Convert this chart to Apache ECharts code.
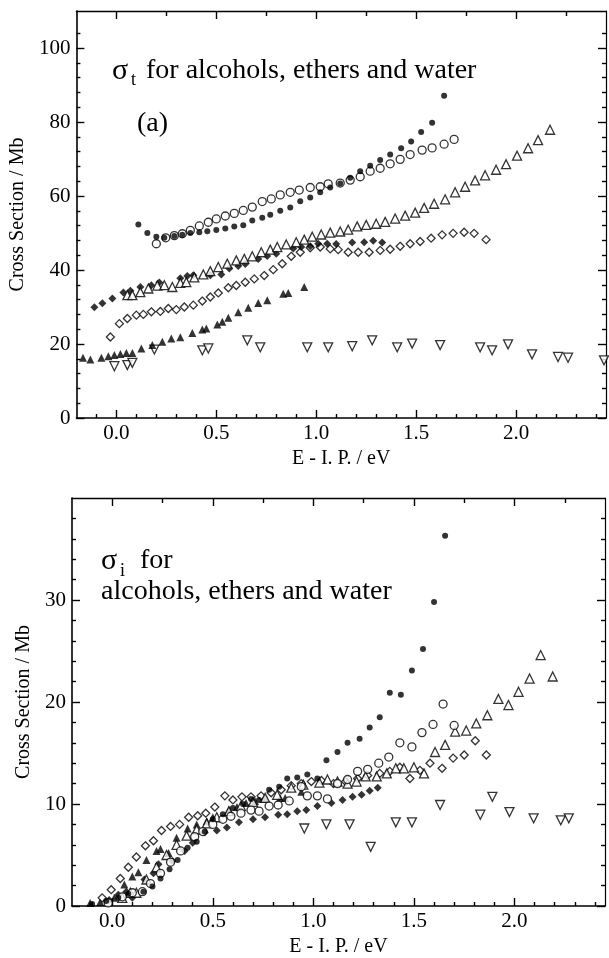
<!DOCTYPE html>
<html>
<head>
<meta charset="utf-8">
<title>Cross sections</title>
<script src="https://cdn.jsdelivr.net/npm/echarts@6/dist/echarts.min.js"></script>
<style>
    html, body { margin: 0; padding: 0; background: #fff; }
    #main { width: 609px; height: 958px; }
</style>
</head>
<body>
<div id="main"></div>
<script>
// ---- tick labels ----
var xMajor = [0, 0.5, 1.0, 1.5, 2.0];
var xTopMinor = [0.25, 0.75, 1.25, 1.75, 2.25];
var yMajorT = [0, 20, 40, 60, 80, 100];
var yMajorI = [0, 10, 20, 30];

// ---- (a) total cross section sigma_t, [E - IP (eV), Mb] ----
var tFilledCircle = [[0.11,52.3],[0.155,50.0],[0.20,49.0],[0.24,48.7],[0.29,49.2],[0.33,49.5],[0.37,50.0],[0.415,50.2],[0.455,50.5],[0.50,50.8],[0.545,51.2],[0.59,51.75],[0.635,52.1],[0.68,53.4],[0.73,54.1],[0.77,54.9],[0.82,56.0],[0.87,56.9],[0.92,58.6],[0.97,59.6],[1.02,61.0],[1.07,62.3],[1.12,63.4],[1.17,64.9],[1.22,66.7],[1.27,68.2],[1.32,69.7],[1.37,71.2],[1.425,72.9],[1.475,74.7],[1.525,77.3],[1.58,79.8],[1.64,87.1]];
var tOpenCircle = [[0.20,47.1],[0.247,48.7],[0.29,49.3],[0.33,49.8],[0.37,50.7],[0.415,51.9],[0.46,52.9],[0.50,53.8],[0.545,54.6],[0.59,55.3],[0.635,56.1],[0.68,57.0],[0.73,58.5],[0.775,59.2],[0.82,60.3],[0.87,61.0],[0.915,61.6],[0.97,62.3],[1.02,62.5],[1.06,63.3],[1.12,63.5],[1.17,64.3],[1.22,65.2],[1.27,66.7],[1.32,67.5],[1.37,68.7],[1.42,69.9],[1.47,71.2],[1.53,72.4],[1.58,73.0],[1.64,74.0],[1.69,75.3]];
var tOpenTri = [[0.055,33.2],[0.08,33.2],[0.12,34.0],[0.16,35.0],[0.205,35.8],[0.24,35.9],[0.28,35.4],[0.32,36.5],[0.35,36.7],[0.39,38.0],[0.435,38.8],[0.47,39.7],[0.51,40.8],[0.555,41.7],[0.60,42.6],[0.64,43.0],[0.68,43.7],[0.725,44.8],[0.77,45.5],[0.805,46.2],[0.85,46.9],[0.90,47.5],[0.94,48.2],[0.98,49.0],[1.025,49.6],[1.07,50.1],[1.12,50.4],[1.16,50.9],[1.205,51.8],[1.25,52.2],[1.30,52.5],[1.345,53.0],[1.395,53.9],[1.445,54.7],[1.495,55.5],[1.54,56.8],[1.59,57.9],[1.645,59.1],[1.695,61.0],[1.745,62.5],[1.795,64.2],[1.845,65.6],[1.90,67.1],[1.95,68.6],[2.005,70.9],[2.06,72.9],[2.11,75.1],[2.17,77.9]];
var tFilledDiam = [[-0.11,29.9],[-0.07,31.0],[-0.02,32.3],[0.035,33.9],[0.07,34.4],[0.12,35.4],[0.175,35.9],[0.215,36.6],[0.32,37.8],[0.355,38.4],[0.385,38.6],[0.47,38.6],[0.525,38.8],[0.565,40.4],[0.61,41.1],[0.645,41.6],[0.71,43.0],[0.755,43.8],[0.80,44.4],[0.885,45.8],[0.925,46.2],[0.97,46.4],[1.01,47.1],[1.055,47.1],[1.10,47.0],[1.18,47.4],[1.24,47.5],[1.285,47.9],[1.33,47.4]];
var tOpenDiam = [[-0.03,21.9],[0.015,25.5],[0.055,26.9],[0.10,27.8],[0.135,28.0],[0.175,28.7],[0.22,28.8],[0.26,29.6],[0.30,29.3],[0.34,30.0],[0.385,30.5],[0.43,31.6],[0.47,32.7],[0.51,33.8],[0.56,35.2],[0.60,35.8],[0.645,36.7],[0.69,37.6],[0.74,38.5],[0.785,40.1],[0.83,41.7],[0.875,43.7],[0.92,44.8],[0.97,46.0],[1.02,46.2],[1.07,45.7],[1.11,45.5],[1.16,44.8],[1.21,44.8],[1.265,44.8],[1.32,45.3],[1.37,45.6],[1.42,46.4],[1.47,47.1],[1.52,47.7],[1.575,48.6],[1.63,49.5],[1.685,49.9],[1.74,50.2],[1.79,49.9],[1.85,48.2]];
var tFilledTri = [[-0.167,16.3],[-0.13,15.8],[-0.075,16.3],[-0.04,16.7],[-0.01,17.0],[0.02,17.3],[0.05,17.6],[0.08,17.6],[0.125,18.8],[0.18,19.7],[0.23,20.6],[0.275,21.5],[0.32,21.8],[0.38,23.0],[0.43,23.9],[0.45,24.2],[0.505,25.3],[0.53,26.0],[0.56,27.1],[0.61,28.6],[0.66,29.8],[0.71,31.1],[0.755,31.8],[0.835,33.6],[0.86,33.8],[0.94,35.4]];
var tWater = [[-0.01,14.0],[0.055,14.3],[0.08,14.9],[0.19,18.5],[0.43,18.3],[0.46,18.8],[0.655,21.0],[0.72,19.1],[0.955,19.1],[1.06,19.1],[1.18,19.4],[1.28,21.0],[1.405,19.1],[1.48,20.1],[1.62,19.7],[1.82,19.1],[1.88,18.3],[1.96,19.9],[2.08,17.2],[2.21,16.5],[2.26,16.3],[2.44,15.6]];

// ---- (b) ionization cross section sigma_i ----
var iFilledCircle = [[-0.10,0.2],[-0.03,0.5],[0.03,0.8],[0.08,1.2],[0.155,1.4],[0.20,1.9],[0.24,2.7],[0.285,3.6],[0.325,4.5],[0.375,5.7],[0.42,6.3],[0.46,7.3],[0.50,8.5],[0.55,9.0],[0.60,9.6],[0.65,10.0],[0.69,10.5],[0.73,10.4],[0.78,11.4],[0.83,11.7],[0.87,12.5],[0.92,12.6],[0.97,12.9],[1.02,12.5],[1.065,14.3],[1.12,15.1],[1.17,16.0],[1.23,16.4],[1.28,17.5],[1.33,18.5],[1.38,20.9],[1.435,20.7],[1.49,23.1],[1.545,25.2],[1.60,29.8],[1.655,36.3]];
var iOpenCircle = [[-0.02,0.3],[0.05,0.9],[0.10,1.3],[0.15,1.4],[0.19,2.2],[0.24,3.2],[0.29,4.3],[0.34,5.4],[0.41,6.8],[0.45,7.3],[0.50,8.0],[0.55,8.5],[0.59,8.8],[0.64,9.1],[0.69,9.4],[0.73,9.3],[0.78,9.8],[0.825,9.9],[0.88,10.3],[0.94,11.7],[0.97,10.8],[1.02,10.8],[1.07,10.5],[1.12,12.0],[1.17,12.4],[1.22,13.2],[1.27,13.4],[1.325,14.0],[1.375,14.6],[1.43,16.0],[1.49,15.6],[1.54,17.0],[1.595,17.8],[1.645,19.8],[1.70,17.7]];
var iOpenTri = [[0.05,0.8],[0.09,1.3],[0.12,1.3],[0.17,2.6],[0.22,3.8],[0.27,5.0],[0.32,6.0],[0.37,6.9],[0.42,7.5],[0.47,8.1],[0.52,8.7],[0.58,9.3],[0.64,9.8],[0.70,10.2],[0.76,10.6],[0.82,10.9],[0.89,11.6],[0.95,11.9],[1.03,12.1],[1.07,12.4],[1.12,12.2],[1.17,12.0],[1.215,12.2],[1.26,12.7],[1.315,12.7],[1.365,13.0],[1.41,13.5],[1.45,13.5],[1.50,13.6],[1.55,13.0],[1.605,15.1],[1.655,15.8],[1.705,17.1],[1.76,17.2],[1.81,17.9],[1.865,18.7],[1.92,20.3],[1.97,19.7],[2.02,21.0],[2.075,22.3],[2.13,24.6],[2.19,22.5]];
var iFilledDiam = [[-0.015,0.6],[0.03,1.1],[0.07,1.4],[0.10,0.8],[0.16,2.6],[0.205,3.2],[0.23,4.1],[0.30,4.4],[0.36,5.4],[0.40,6.2],[0.46,7.2],[0.52,7.4],[0.57,7.7],[0.63,8.2],[0.70,8.5],[0.76,8.7],[0.825,8.95],[0.87,9.0],[0.92,9.3],[0.965,9.4],[1.02,9.8],[1.09,10.1],[1.145,10.4],[1.195,10.7],[1.24,10.9],[1.28,11.3],[1.32,11.6]];
var iOpenDiam = [[-0.05,0.8],[-0.005,1.6],[0.04,2.7],[0.08,3.8],[0.12,4.8],[0.165,5.9],[0.205,6.4],[0.245,7.4],[0.29,7.8],[0.335,8.0],[0.38,8.7],[0.425,8.85],[0.465,9.1],[0.51,9.7],[0.56,10.8],[0.60,10.4],[0.645,10.7],[0.69,10.7],[0.74,10.8],[0.79,11.1],[0.84,11.4],[0.89,11.8],[0.94,12.0],[0.99,12.2],[1.04,12.3],[1.10,12.0],[1.16,12.2],[1.22,12.5],[1.27,12.8],[1.33,13.0],[1.38,13.2],[1.43,13.6],[1.48,12.5],[1.53,13.3],[1.58,14.0],[1.64,13.5],[1.695,14.5],[1.75,14.8],[1.805,16.2],[1.86,14.8]];
var iFilledTri = [[-0.11,0.3],[-0.06,0.4],[0.01,0.8],[0.06,2.1],[0.10,2.9],[0.13,3.3],[0.17,4.5],[0.22,5.4],[0.24,5.6],[0.28,5.2],[0.32,6.7],[0.375,7.6],[0.42,8.0],[0.47,8.3],[0.50,8.7],[0.58,9.4],[0.62,9.7],[0.665,10.1],[0.71,10.3],[0.76,10.5],[0.835,10.6],[0.86,10.6],[0.94,11.2]];
var iWater = [[0.955,7.6],[1.065,8.0],[1.18,8.0],[1.285,5.8],[1.41,8.2],[1.49,8.2],[1.63,9.9],[1.83,8.95],[1.89,10.7],[1.975,9.2],[2.095,8.6],[2.23,8.4],[2.27,8.6]];

var FONT = '"Liberation Serif", "DejaVu Serif", serif';
var X_MIN = -0.2, X_MAX = 2.45;
var NAX = 6; // axes per grid and direction

// evenly spaced minor ticks, skipping the major ones
function steps(from, to, step, skip) {
    var out = [];
    for (var v = from; v <= to + 1e-9; v += step) {
        var r = Math.round(v * 1000) / 1000;
        if (skip.indexOf(r) < 0) out.push(r);
    }
    return out;
}

// an axis that only carries inward ticks (no line, no labels)
function tickAxis(base, position, vals, len) {
    return Object.assign({}, base, {
        position: position,
        axisLine: { show: false, onZero: false },
        axisLabel: { show: false },
        axisTick: { show: true, inside: true, length: len, customValues: vals.slice(),
                    lineStyle: { color: '#000', width: 1.4 } }
    });
}

function xAxesFor(g) {
    var base = { gridIndex: g, type: 'value', min: X_MIN, max: X_MAX, splitLine: { show: false } };
    return [
        Object.assign({}, base, {
            position: 'bottom',
            axisLine: { show: true, onZero: false, lineStyle: { color: '#000', width: 1.6 } },
            axisTick: { show: false },
            axisLabel: { customValues: xMajor.slice(), formatter: function (v) { return v.toFixed(1); },
                         color: '#000', fontFamily: FONT, fontSize: 21, margin: 5 },
            name: 'E - I. P. / eV', nameLocation: 'middle', nameGap: 31,
            nameTextStyle: { color: '#000', fontFamily: FONT, fontSize: 20 }
        }),
        tickAxis(base, 'bottom', xMajor, 8),
        tickAxis(base, 'bottom', steps(-0.1, 2.4, 0.1, xMajor), 4),
        Object.assign({}, base, {
            position: 'top', axisLabel: { show: false }, axisTick: { show: false },
            axisLine: { show: true, onZero: false, lineStyle: { color: '#000', width: 1.4 } }
        }),
        tickAxis(base, 'top', xMajor, 8),
        tickAxis(base, 'top', xTopMinor, 5)
    ];
}

function yAxesFor(g, max, major, minorStep, gap) {
    var base = { gridIndex: g, type: 'value', min: 0, max: max, splitLine: { show: false } };
    var minor = steps(minorStep, max - minorStep, minorStep, major);
    return [
        Object.assign({}, base, {
            position: 'left',
            axisLine: { show: true, onZero: false, lineStyle: { color: '#000', width: 1.6 } },
            axisTick: { show: false },
            axisLabel: { customValues: major.slice(), color: '#000', fontFamily: FONT, fontSize: 21, margin: 6 },
            name: 'Cross Section / Mb', nameLocation: 'middle', nameGap: gap,
            nameTextStyle: { color: '#000', fontFamily: FONT, fontSize: 20 }
        }),
        tickAxis(base, 'left', major, 8),
        tickAxis(base, 'left', minor, 4),
        Object.assign({}, base, {
            position: 'right', axisLabel: { show: false }, axisTick: { show: false },
            axisLine: { show: true, onZero: false, lineStyle: { color: '#000', width: 1.2 } }
        }),
        tickAxis(base, 'right', major, 8),
        tickAxis(base, 'right', minor, 4)
    ];
}

function marks(data, g, symbol, size, filled, rotate) {
    return {
        type: 'scatter', xAxisIndex: g * NAX, yAxisIndex: g * NAX, data: data,
        symbol: symbol, symbolSize: size, symbolRotate: rotate || 0,
        itemStyle: filled ? { color: '#000' } : { color: '#fff', borderColor: '#000', borderWidth: 1.3 },
        clip: false, silent: true
    };
}

var chart = echarts.init(document.getElementById('main'));

var option = {
    animation: false,
    backgroundColor: '#fff',
    grid: [
        { left: 76, right: 3, top: 11, height: 407 },
        { left: 72, right: 4, top: 498, height: 410 }
    ],
    xAxis: xAxesFor(0).concat(xAxesFor(1)),
    yAxis: yAxesFor(0, 110, yMajorT, 4, 46).concat(yAxesFor(1, 40, yMajorI, 2, 38)),
    graphic: [
        { type: 'text', left: 112, top: 56, style: { text: 'σ', font: '30px ' + FONT, fill: '#000' } },
        { type: 'text', left: 131, top: 71, style: { text: 't', font: '18px ' + FONT, fill: '#000' } },
        { type: 'text', left: 146, top: 57, style: { text: 'for alcohols, ethers and water', font: '28px ' + FONT, fill: '#000' } },
        { type: 'text', left: 137, top: 110, style: { text: '(a)', font: '28px ' + FONT, fill: '#000' } },
        { type: 'text', left: 101, top: 546, style: { text: 'σ', font: '30px ' + FONT, fill: '#000' } },
        { type: 'text', left: 120, top: 562, style: { text: 'i', font: '18px ' + FONT, fill: '#000' } },
        { type: 'text', left: 140, top: 547, style: { text: 'for', font: '28px ' + FONT, fill: '#000' } },
        { type: 'text', left: 101, top: 578, style: { text: 'alcohols, ethers and water', font: '28px ' + FONT, fill: '#000' } }
    ],
    series: [
        marks(tWater, 0, 'triangle', 9, false, 180),
        marks(tFilledTri, 0, 'triangle', 8, true),
        marks(tOpenDiam, 0, 'diamond', 8, false),
        marks(tFilledDiam, 0, 'diamond', 8, true),
        marks(tOpenTri, 0, 'triangle', 9, false),
        marks(tOpenCircle, 0, 'circle', 8, false),
        marks(tFilledCircle, 0, 'circle', 6, true),

        marks(iWater, 1, 'triangle', 9, false, 180),
        marks(iFilledTri, 1, 'triangle', 8, true),
        marks(iOpenDiam, 1, 'diamond', 8, false),
        marks(iFilledDiam, 1, 'diamond', 8, true),
        marks(iOpenTri, 1, 'triangle', 9, false),
        marks(iOpenCircle, 1, 'circle', 8, false),
        marks(iFilledCircle, 1, 'circle', 6, true)
    ]
};

chart.setOption(option);
</script>
</body>
</html>
